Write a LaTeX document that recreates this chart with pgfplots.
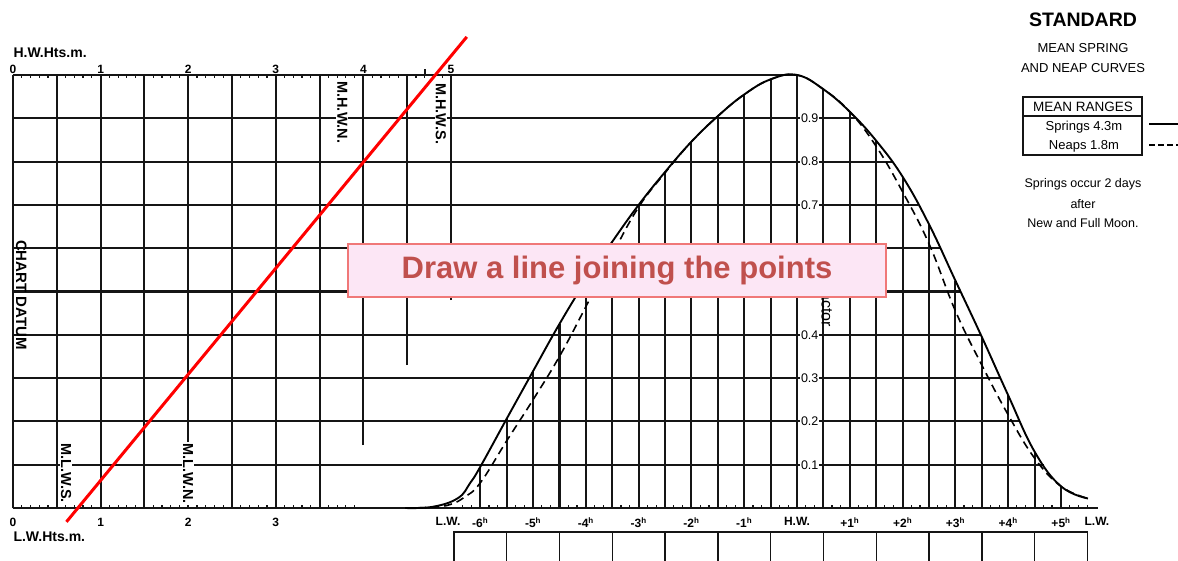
\documentclass[border=0pt]{standalone}
\usepackage{pgfplots}
\usepackage{pgfplotstable}
\pgfplotsset{compat=1.18}
\usepackage{fontspec}
\setmainfont{Liberation Sans}

% Mean spring curve: hours from high water (t) against height factor (f)
\pgfplotstableread{
t f
-7.42 0
-6.89 0.003
-6.42 0.023
-6.19 0.058
-6 0.095
-5.5 0.206
-5 0.316
-4.5 0.425
-4 0.525
-3.5 0.615
-3 0.70
-2.5 0.776
-2 0.846
-1.5 0.905
-1 0.955
-0.5 0.99
0 1.0
0.5 0.967
1 0.915
1.5 0.848
2 0.765
2.5 0.655
3 0.525
3.5 0.395
4 0.26
4.5 0.13
5 0.05
5.51 0.022
}\springcurve

% Mean neap curve
\pgfplotstableread{
t f
-7.42 0
-6.89 0.002
-6.57 0.008
-6.3 0.025
-6 0.058
-5.5 0.155
-5 0.25
-4.5 0.35
-4 0.465
-3.5 0.585
-3 0.695
-2.5 0.774
-2 0.846
-1.5 0.905
-1 0.955
-0.5 0.99
0 1
0.5 0.967
1 0.915
1.5 0.835
2 0.73
2.5 0.61
3 0.455
3.5 0.33
4 0.215
4.5 0.115
5 0.05
5.51 0.022
}\neapcurve

\definecolor{gridink}{HTML}{151515}
\definecolor{notefill}{HTML}{FCE6F5}
\definecolor{noteedge}{HTML}{F07878}
\definecolor{notetext}{HTML}{C0504D}

\pgfplotsset{
  panel/.style={scale only axis, anchor=south west, at={(13pt,52pt)},
    height=433pt, ymin=0, ymax=1, clip=false,
    axis y line=none, axis line style={draw=none},
    tick align=inside, major tick length=0pt, minor tick length=3pt,
    tick style={gridink, line width=1.2pt},
    unbounded coords=jump,
    /pgf/number format/assume math mode=true},
  gridline/.style={gridink, line width=2.1pt, forget plot},
}
\tikzset{
  mark label/.style={rotate=-90, anchor=west, fill=white, inner sep=1pt,
    font=\bfseries\fontsize{14.5}{15}\selectfont},
  level label/.style={fill=white, inner sep=0.6pt,
    font=\fontsize{12.5}{13}\selectfont},
}

\begin{document}
\begin{tikzpicture}[x=1pt,y=1pt]
\useasboundingbox (0,0) rectangle (1178,560);
\clip (0,0) rectangle (1178,560);

% ---------- time panel: hours from high water ----------
\begin{axis}[panel, width=1085pt, xmin=-14.85, xmax=5.70,
  axis x line*=bottom,
  xtick={-6.61,-6,-5,-4,-3,-2,-1,0,1,2,3,4,5,5.68},
  xticklabels={L.W.,-6\textsuperscript{h},-5\textsuperscript{h},-4\textsuperscript{h},-3\textsuperscript{h},-2\textsuperscript{h},-1\textsuperscript{h},H.W.,+1\textsuperscript{h},+2\textsuperscript{h},+3\textsuperscript{h},+4\textsuperscript{h},+5\textsuperscript{h},L.W.},
  minor xtick={-6.3333,-6.1667,...,5.55},
  xticklabel style={font=\bfseries\fontsize{12}{12}\selectfont, yshift=-6pt},
]
% factor lines, running out to the spring curve
\addplot[gridline] coordinates {
 (-14.85,0)(5.70,0)(0,nan)
 (-14.85,0.1)(4.68,0.1)(0,nan)
 (-14.85,0.2)(4.23,0.2)(0,nan)
 (-14.85,0.3)(3.86,0.3)(0,nan)
 (-14.85,0.4)(3.48,0.4)(0,nan)
 (-14.85,0.5)(3.1,0.5)(0,nan)
 (-14.85,0.6)(2.71,0.6)(0,nan)
 (-14.85,0.7)(2.30,0.7)(0,nan)
 (-14.85,0.8)(1.79,0.8)(0,nan)
 (-14.85,0.9)(1.115,0.9)(0,nan)
 (-14.85,1)(0,1)
};
% half-hour lines up to the spring curve
\addplot[gridline] coordinates {
 (-6,0)(-6,0.095)(-6,nan)
 (-5.5,0)(-5.5,0.206)(-5.5,nan)
 (-5,0)(-5,0.316)(-5,nan)
 (-4.5,0)(-4.5,0.425)(-4.5,nan)
 (-4,0)(-4,0.525)(-4,nan)
 (-3.5,0)(-3.5,0.615)(-3.5,nan)
 (-3,0)(-3,0.70)(-3,nan)
 (-2.5,0)(-2.5,0.776)(-2.5,nan)
 (-2,0)(-2,0.846)(-2,nan)
 (-1.5,0)(-1.5,0.905)(-1.5,nan)
 (-1,0)(-1,0.955)(-1,nan)
 (-0.5,0)(-0.5,0.99)(-0.5,nan)
 (0,0)(0,1)(0,nan)
 (0.5,0)(0.5,0.967)(0.5,nan)
 (1,0)(1,0.915)(1,nan)
 (1.5,0)(1.5,0.848)(1.5,nan)
 (2,0)(2,0.765)(2,nan)
 (2.5,0)(2.5,0.655)(2.5,nan)
 (3,0)(3,0.525)(3,nan)
 (3.5,0)(3.5,0.395)(3.5,nan)
 (4,0)(4,0.26)(4,nan)
 (4.5,0)(4.5,0.13)(4.5,nan)
 (5,0)(5,0.05)
};
% curves
\addplot[black, line width=1.9pt, smooth, tension=0.7] table[x=t, y=f] {\springcurve};
\addplot[black, line width=1.6pt, smooth, tension=0.7, dash pattern=on 8pt off 5pt] table[x=t, y=f] {\neapcurve};
% boxes under the time scale
\addplot[gridline, line width=1.4pt] coordinates {
 (-6.5,-0.3)(-6.5,-0.055)(5.5,-0.055)(5.5,-0.3)(0,nan)
 (-5.5,-0.055)(-5.5,-0.3)(0,nan)
 (-4.5,-0.055)(-4.5,-0.3)(0,nan)
 (-3.5,-0.055)(-3.5,-0.3)(0,nan)
 (-2.5,-0.055)(-2.5,-0.3)(0,nan)
 (-1.5,-0.055)(-1.5,-0.3)(0,nan)
 (-0.5,-0.055)(-0.5,-0.3)(0,nan)
 (0.5,-0.055)(0.5,-0.3)(0,nan)
 (1.5,-0.055)(1.5,-0.3)(0,nan)
 (2.5,-0.055)(2.5,-0.3)(0,nan)
 (3.5,-0.055)(3.5,-0.3)(0,nan)
 (4.5,-0.055)(4.5,-0.3)
};
% factor scale along the high-water line
\foreach \v in {0.1,0.2,0.3,0.4,0.5,0.6,0.7,0.8,0.9}{
  \edef\temp{\noexpand\node[level label] at (axis cs:0.24,\v) {\v};}\temp
}
\node[rotate=-90, font=\fontsize{16}{16}\selectfont] at (axis cs:0.57,0.47) {Factor};
\end{axis}

% ---------- height panel: high-water heights (top scale) ----------
\begin{axis}[panel, width=438pt, xmin=0, xmax=5,
  axis x line*=top, xtick={0,...,5}, minor xtick={0,0.1,...,5.01},
  major tick length=3pt,
  xticklabel style={font=\bfseries\fontsize{12}{12}\selectfont, yshift=-2pt},
]
\addplot[gridline] coordinates {
 (0,0)(0,1)(0,nan)
 (0.5,0)(0.5,1)(0.5,nan)
 (1,0)(1,1)(1,nan)
 (1.5,0)(1.5,1)(1.5,nan)
 (2,0)(2,1)(2,nan)
 (2.5,0)(2.5,1)(2.5,nan)
 (3,0)(3,1)(3,nan)
 (3.5,0)(3.5,1)(3.5,nan)
 (4,0.145)(4,1)(4,nan)
 (4.5,0.33)(4.5,1)(4.5,nan)
 (5,0.48)(5,1)(5,nan)
 (4.7,1)(4.7,1.014)
};
\node[mark label] at (axis cs:3.76,0.988) {M.H.W.N.};
\node[mark label] at (axis cs:4.885,0.984) {M.H.W.S.};
\node[mark label] at (axis cs:0.605,0.152) {M.L.W.S.};
\node[mark label] at (axis cs:2.0,0.152) {M.L.W.N.};
\node[rotate=-90, font=\bfseries\fontsize{15}{15}\selectfont] at (axis cs:0.095,0.492) {CHART DATUM};
% the joining line
\addplot[color=red, line width=3pt] coordinates {(0.61,-0.032) (5.18,1.088)};
\end{axis}

% ---------- height panel: low-water heights (bottom scale) ----------
\begin{axis}[panel, width=438pt, xmin=0, xmax=5,
  axis x line*=bottom, xtick={0,1,2,3}, minor xtick={0,0.1,...,3.91},
  major tick length=3pt,
  xticklabel style={font=\bfseries\fontsize{12}{12}\selectfont, yshift=-7pt},
]
\addplot[draw=none, forget plot] coordinates {(0,0)};
\end{axis}

% scale titles
\node[anchor=west, font=\bfseries\fontsize{14}{14}\selectfont] at (10,507) {H.W.Hts.m.};
\node[anchor=west, font=\bfseries\fontsize{14}{14}\selectfont] at (10,23) {L.W.Hts.m.};

% heading and key
\node[font=\bfseries\fontsize{19.5}{20}\selectfont] at (1083,540) {STANDARD};
\node[font=\fontsize{13}{13}\selectfont] at (1083,512) {MEAN SPRING};
\node[font=\fontsize{13}{13}\selectfont] at (1083,492) {AND NEAP CURVES};
\draw[gridink, line width=1.3pt] (1023,405) rectangle (1142,463);
\draw[gridink, line width=1.3pt] (1023,444) -- (1142,444);
\node[font=\fontsize{13.5}{14}\selectfont] at (1083,453.5) {MEAN RANGES};
\node[font=\fontsize{13}{13}\selectfont] at (1084,433) {Springs 4.3m};
\node[font=\fontsize{13}{13}\selectfont] at (1084,414) {Neaps 1.8m};
\draw[black, line width=1.9pt] (1149,436) -- (1180,436);
\draw[black, line width=1.6pt, dash pattern=on 6pt off 3pt] (1149,415) -- (1180,415);
\node[font=\fontsize{12.5}{13}\selectfont] at (1083,376) {Springs occur 2 days};
\node[font=\fontsize{12.5}{13}\selectfont] at (1083,356) {after};
\node[font=\fontsize{12.5}{13}\selectfont] at (1083,337) {New and Full Moon.};

% instruction note
\node[draw=noteedge, line width=1.5pt, fill=notefill, minimum width=538pt,
  minimum height=53pt, inner sep=0pt, text=notetext,
  font=\bfseries\fontsize{31}{31}\selectfont] at (617,289.5) {Draw a line joining the points};
\end{tikzpicture}
\end{document}
